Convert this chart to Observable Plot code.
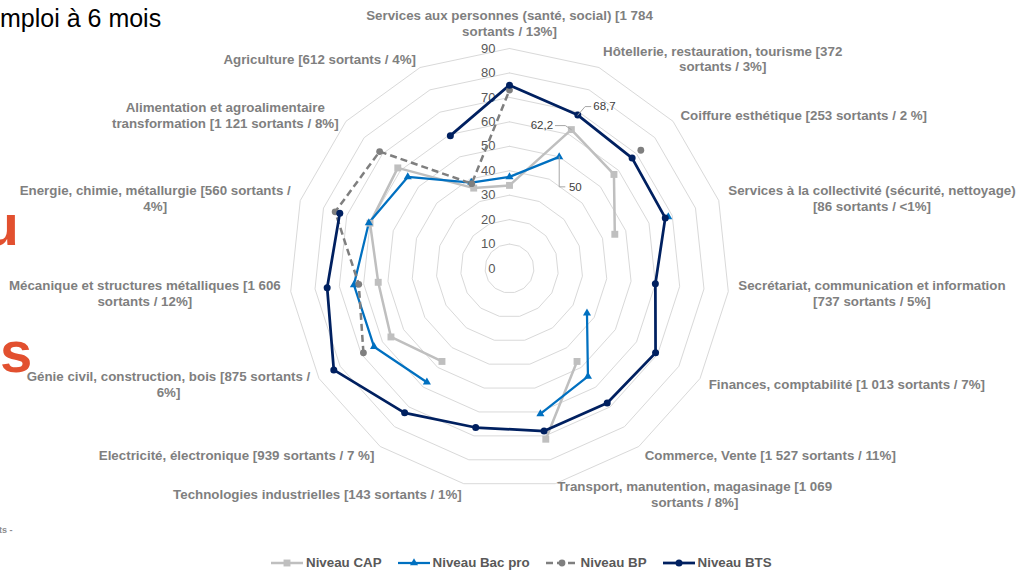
<!DOCTYPE html>
<html>
<head>
<meta charset="utf-8">
<script src="https://cdn.jsdelivr.net/npm/d3@7"></script>
<script src="https://cdn.jsdelivr.net/npm/@observablehq/plot@0.6"></script>
<style>
  html, body { margin: 0; padding: 0; background: #fff; }
  #wrap { position: relative; width: 1022px; height: 571px; overflow: hidden; background: #fff;
          font-family: "Liberation Sans", Arial, sans-serif; }
  #chart { position: absolute; left: 0; top: 0; }
  #deco { position: absolute; left: 0; top: 0; pointer-events: none; }
  #legend { position: absolute; left: 271px; top: 555px; display: flex; align-items: center; gap: 16px;
            font: bold 13.33px "Liberation Sans", Arial, sans-serif; color: #595959; white-space: nowrap; }
  #legend .item { display: flex; align-items: center; gap: 3px; }
  #legend svg { display: block; }
</style>
</head>
<body>
<div id="wrap">
  <div id="chart"></div>
  <svg id="deco" width="1022" height="571"></svg>
  <div id="legend"></div>
</div>
<script>
// ---------------- DATA ----------------
const categories = [
  "Services aux personnes (santé, social) [1 784\nsortants / 13%]",
  "Hôtellerie, restauration, tourisme [372\nsortants / 3%]",
  "Coiffure esthétique [253 sortants / 2 %]",
  "Services à la collectivité (sécurité, nettoyage)\n[86 sortants / <1%]",
  "Secrétariat, communication et information\n[737 sortants / 5%]",
  "Finances, comptabilité [1 013 sortants / 7%]",
  "Commerce, Vente [1 527 sortants / 11%]",
  "Transport, manutention, magasinage [1 069\nsortants / 8%]",
  "Technologies industrielles [143 sortants / 1%]",
  "Electricité, électronique [939 sortants / 7 %]",
  "Génie civil, construction, bois [875 sortants /\n6%]",
  "Mécanique et structures métalliques [1 606\nsortants / 12%]",
  "Energie, chimie, métallurgie [560 sortants /\n4%]",
  "Alimentation et agroalimentaire\ntransformation [1 121 sortants / 8%]",
  "Agriculture [612 sortants / 4%]"
];
const niveauCAP    = [34, 62.2, 57.5, 45.3, null, null, 47, 71.4, null, 47, 56, 54, 60, 61.5, 36];
const niveauBacPro = [37.5, 50, null, 68.3, null, 36.6, 54.6, 60.8, null, 57.5, 64, 64, 60.5, 56, 38.5];
const niveauBP     = [73, null, 72.3, null, null, null, null, null, null, null, 69, 62, 75, 71.5, 38];
const niveauBTS    = [75, 68.7, 67.5, 67, 60, 69, 68, 68, 66.5, 73, 83, 75, 73, null, 59.5];
const radialTicks  = [0, 10, 20, 30, 40, 50, 60, 70, 80, 90];
const seriesNames  = ["Niveau CAP", "Niveau Bac pro", "Niveau BP", "Niveau BTS"];
const seriesValues = [niveauCAP, niveauBacPro, niveauBP, niveauBTS];
// data labels shown in the chart: [series index, category index]
const labelledPoints = [[3, 1], [0, 1], [1, 1]];
const titleFragment = "mploi à 6 mois";

// ---------------- LAYOUT / STYLE ----------------
const W = 1022, H = 571, CX = 509, CY = 268, RPX = 220;
const RMAX = radialTicks[radialTicks.length - 1];
const k = RPX / RMAX; // pixels per unit
const FONT = '"Liberation Sans", Arial, sans-serif';
const n = categories.length;
const ang = i => 2 * Math.PI * i / n;
const pt = (v, i) => (v == null ? {x: NaN, y: NaN, v} : {x: v * Math.sin(ang(i)), y: v * Math.cos(ang(i)), v});

const styles = [
  {color: "#BFBFBF", symbol: "square",   r: 3.9, width: 2.5,  dash: null},
  {color: "#0070C0", symbol: "triangle", r: 3.0, width: 2.25, dash: null},
  {color: "#7F7F7F", symbol: "circle",   r: 3.4, width: 2.5,  dash: "7,4"},
  {color: "#002060", symbol: "circle",   r: 3.5, width: 2.75, dash: null}
];
// pixel offsets of data labels: text anchor position, leader polyline, anchor
const labelLayout = [
  {tx: 15.5, ty: -8.5, anchor: "start", leader: [[0, 0], [7.3, -8.5], [13, -8.5]]},
  {tx: -18.3, ty: -4, anchor: "end",   leader: [[0, 0], [-6, -4], [-16, -4]]},
  {tx: 9.7, ty: 30, anchor: "start",   leader: [[0, 0], [0, 30], [5.7, 30]]}
];

// ---------------- MARKS ----------------
const marks = [];

// grid rings
const rings = radialTicks.filter(t => t > 0).flatMap(t =>
  d3.range(n + 1).map(i => ({ring: t, ...pt(t, i % n)})));
marks.push(Plot.line(rings, {x: "x", y: "y", z: "ring", stroke: "#D9D9D9", strokeWidth: 1}));

// radial tick labels
marks.push(Plot.text(radialTicks, {
  x: () => 0, y: d => d, text: d => String(d), textAnchor: "end", dx: -14,
  fill: "#595959", fontSize: 13
}));

// series lines and markers
seriesValues.forEach((vals, s) => {
  const st = styles[s];
  const pts = d3.range(n + 1).map(i => pt(vals[i % n], i % n));
  marks.push(Plot.line(pts, {
    x: "x", y: "y", stroke: st.color, strokeWidth: st.width,
    strokeDasharray: st.dash, strokeLinejoin: "round", strokeLinecap: st.dash ? "butt" : "round"
  }));
});
seriesValues.forEach((vals, s) => {
  const st = styles[s];
  const pts = vals.map((v, i) => pt(v, i)).filter(p => p.v != null);
  marks.push(Plot.dot(pts, {x: "x", y: "y", symbol: st.symbol, r: st.r, fill: st.color, stroke: "none"}));
});

// data labels with leaders
const fmt = v => String(v).replace(".", ",");
labelledPoints.forEach(([s, c], j) => {
  const L = labelLayout[j];
  const p = pt(seriesValues[s][c], c);
  const leader = L.leader.map(([dx, dy]) => ({x: p.x + dx / k, y: p.y - dy / k}));
  marks.push(Plot.line(leader, {x: "x", y: "y", stroke: "#A6A6A6", strokeWidth: 1}));
  marks.push(Plot.text([p], {
    x: "x", y: "y", text: () => fmt(p.v), dx: L.tx, dy: L.ty, textAnchor: L.anchor,
    fill: "#404040", fontSize: 11.5
  }));
});

// category labels around the outer ring
const ctx = document.createElement("canvas").getContext("2d");
ctx.font = `bold 13.33px ${FONT}`;
categories.forEach((label, i) => {
  const s = Math.sin(ang(i)), c = Math.cos(ang(i));
  const w = d3.max(label.split("\n"), l => ctx.measureText(l).width);
  const top = Math.abs(s) < 0.05;
  const dx = top ? 0 : 10 * s + Math.sign(s) * w / 2;
  const dy = top ? -12.5 : -10 * c;
  marks.push(Plot.text([i], {
    x: () => RMAX * s, y: () => RMAX * c, text: () => label,
    dx, dy, textAnchor: "middle", lineAnchor: top ? "bottom" : "middle",
    lineHeight: 1.2, fontSize: 13.33, fontWeight: "bold", fill: "#7F7F7F"
  }));
});

const chart = Plot.plot({
  width: W, height: H, margin: 0,
  x: {domain: [-CX / k, (W - CX) / k], axis: null},
  y: {domain: [-(H - CY) / k, CY / k], axis: null},
  style: {fontFamily: FONT, background: "transparent", overflow: "visible"},
  marks
});
document.getElementById("chart").appendChild(chart);

// ---------------- DECORATIONS (cropped slide text) ----------------
const deco = d3.select("#deco");
deco.append("text").attr("x", 0).attr("y", 27).attr("font-family", FONT).attr("font-size", 25)
  .attr("fill", "#000").text(titleFragment);
deco.append("text").attr("x", 19).attr("y", 245).attr("text-anchor", "end").attr("font-family", FONT)
  .attr("font-size", 58).attr("font-weight", "bold").attr("fill", "#E2502F").text("u");
deco.append("text").attr("x", 0).attr("y", 372).attr("font-family", FONT)
  .attr("font-size", 58).attr("font-weight", "bold").attr("fill", "#E2502F").text("s");
deco.append("text").attr("x", -1).attr("y", 533).attr("font-family", FONT).attr("font-size", 9)
  .attr("font-weight", "bold").attr("fill", "#8C8C8C").text("ts -");

// ---------------- LEGEND ----------------
const legend = d3.select("#legend");
seriesNames.forEach((name, s) => {
  const st = styles[s];
  const item = legend.append("div").attr("class", "item");
  const sv = item.append("svg").attr("width", 32).attr("height", 14);
  sv.append("line").attr("x1", 0).attr("x2", 32).attr("y1", 7).attr("y2", 7)
    .attr("stroke", st.color).attr("stroke-width", st.width).attr("stroke-dasharray", st.dash);
  sv.append("path").attr("transform", "translate(16,7)")
    .attr("d", d3.symbol(st.symbol === "square" ? d3.symbolSquare : st.symbol === "triangle" ? d3.symbolTriangle : d3.symbolCircle,
      Math.PI * st.r * st.r)())
    .attr("fill", st.color);
  item.append("span").text(name);
});
</script>
</body>
</html>
